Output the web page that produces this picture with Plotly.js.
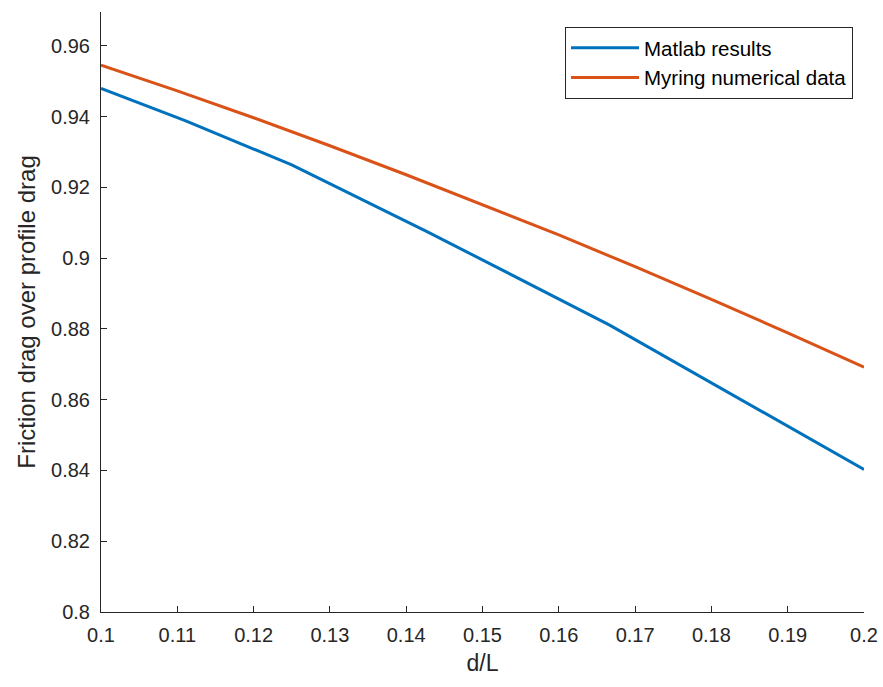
<!DOCTYPE html>
<html>
<head>
<meta charset="utf-8">
<script src="https://cdn.plot.ly/plotly-3.0.1.min.js"></script>
<style>html,body{margin:0;padding:0;background:#fff;}#chart{width:883px;height:687px;}</style>
</head>
<body>
<div id="chart"></div>
<script>
const dLMatlab = [0.1, 1/9, 0.125, 1/7, 1/6, 0.2];
const matlabResults = [0.948, 0.9388, 0.9264, 0.9074, 0.8811, 0.8403];
const dLMyring = [0.1, 0.11, 0.12, 0.13, 0.14, 0.15, 0.16, 0.17, 0.18, 0.19, 0.2];
const myringData = [0.9546, 0.9473, 0.9397, 0.9318, 0.9236, 0.9152, 0.9066, 0.8976, 0.8884, 0.8789, 0.8692];
const seriesNames = ['Matlab results', 'Myring numerical data'];
const xTicks = [0.1, 0.11, 0.12, 0.13, 0.14, 0.15, 0.16, 0.17, 0.18, 0.19, 0.2];
const xTickText = ['0.1','0.11','0.12','0.13','0.14','0.15','0.16','0.17','0.18','0.19','0.2'];
const yTicks = [0.8, 0.82, 0.84, 0.86, 0.88, 0.9, 0.92, 0.94, 0.96];
const yTickText = ['0.8','0.82','0.84','0.86','0.88','0.9','0.92','0.94','0.96'];

const axisColor = '#262626';
const fam = 'Liberation Sans, Arial, sans-serif';

const traces = [
  {x: dLMatlab, y: matlabResults, name: seriesNames[0], mode: 'lines', line: {color: '#0072BD', width: 3}},
  {x: dLMyring, y: myringData, name: seriesNames[1], mode: 'lines', line: {color: '#D95319', width: 3}}
];

const layout = {
  width: 883, height: 687,
  margin: {l: 101, r: 19, t: 12, b: 75},
  paper_bgcolor: '#fff', plot_bgcolor: '#fff',
  font: {family: fam, size: 20, color: axisColor},
  showlegend: true,
  legend: {
    x: 0.9856, xanchor: 'right', y: 0.975, yanchor: 'top',
    bgcolor: '#fff', bordercolor: axisColor, borderwidth: 1,
    font: {family: fam, size: 20.5, color: '#000'},
    itemwidth: 68,
    tracegroupgap: 0
  },
  xaxis: {
    range: [0.1, 0.2], tickvals: xTicks, ticktext: xTickText,
    ticks: 'inside', ticklen: 6, tickcolor: axisColor, tickwidth: 1,
    showline: true, linecolor: axisColor, linewidth: 1, mirror: false,
    showgrid: false, zeroline: false, ticklabelstandoff: 5,
    title: {text: 'd/L', font: {family: fam, size: 23, color: axisColor}, standoff: 9},
    tickfont: {family: fam, size: 20, color: axisColor}
  },
  yaxis: {
    range: [0.8, 0.9696], tickvals: yTicks, ticktext: yTickText,
    ticks: 'inside', ticklen: 6, tickcolor: axisColor, tickwidth: 1,
    showline: true, linecolor: axisColor, linewidth: 1, mirror: false,
    showgrid: false, zeroline: false, ticklabelstandoff: 6,
    title: {text: 'Friction drag over profile drag', font: {family: fam, size: 24, color: axisColor}, standoff: 8},
    tickfont: {family: fam, size: 20, color: axisColor}
  }
};

Plotly.newPlot('chart', traces, layout, {displayModeBar: false, staticPlot: true});
</script>
</body>
</html>
